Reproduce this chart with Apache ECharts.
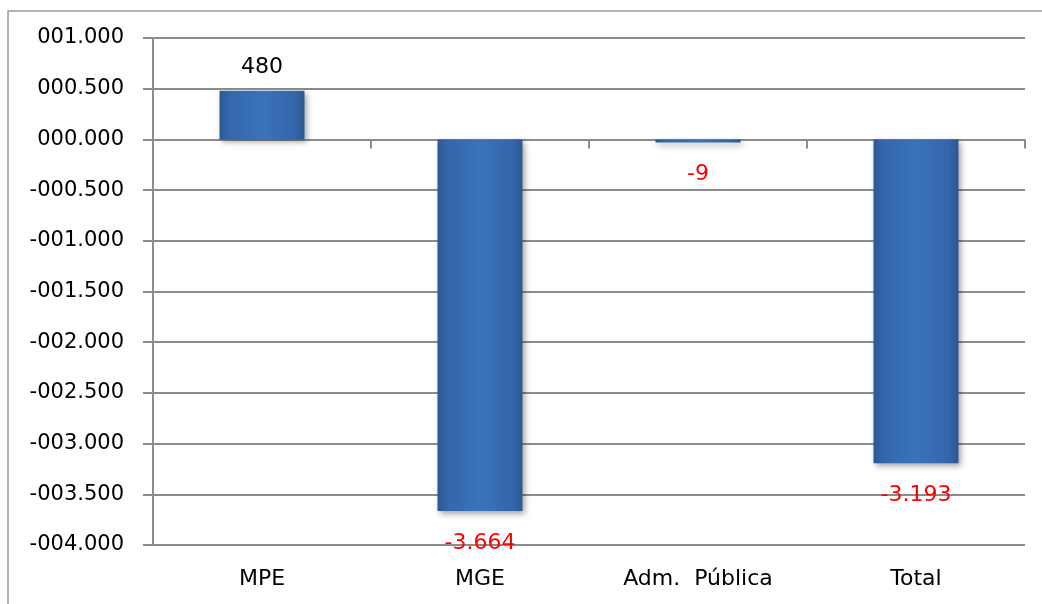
<!DOCTYPE html>
<html>
<head>
<meta charset="utf-8">
<script src="https://cdn.jsdelivr.net/npm/echarts@6/dist/echarts.min.js"></script>
<style>
html,body{margin:0;padding:0;background:#fff;}
#chart{width:1042px;height:604px;}
</style>
</head>
<body>
<div id="chart"></div>
<script>
var categories = ['MPE', 'MGE', 'Adm.  Pública', 'Total'];
var values = [480, -3664, -9, -3193];
var yMin = -4000, yMax = 1000, yInterval = 500;

function fmtTick(v) {
  var neg = v < 0;
  var s = String(Math.abs(Math.round(v)));
  while (s.length < 6) s = '0' + s;
  s = s.slice(0, 3) + '.' + s.slice(3);
  return (neg ? '-' : '') + s;
}
function fmtVal(v) {
  var neg = v < 0;
  var s = String(Math.abs(v)).replace(/\B(?=(\d{3})+(?!\d))/g, '.');
  return (neg ? '-' : '') + s;
}

var FONT = '"DejaVu Sans", sans-serif';
var barColor = {
  type: 'linear', x: 0, y: 0, x2: 1, y2: 0,
  colorStops: [
    {offset: 0, color: '#2b5893'},
    {offset: 0.12, color: '#3467ab'},
    {offset: 0.5, color: '#3a72bc'},
    {offset: 0.88, color: '#3467ab'},
    {offset: 1, color: '#2b5893'}
  ]
};

var data = values.map(function (v) {
  return {
    value: v,
    label: {
      show: true,
      position: v >= 0 ? 'top' : 'bottom',
      distance: v >= 0 ? 12 : 21,
      color: v >= 0 ? '#000' : '#ff0000',
      fontSize: 22,
      fontFamily: FONT,
      formatter: function (p) { return fmtVal(p.value); }
    }
  };
});

var chart = echarts.init(document.getElementById('chart'), null, {renderer: 'canvas'});
chart.setOption({
  animation: false,
  backgroundColor: '#fff',
  graphic: [{
    type: 'rect',
    shape: {x: 8, y: 11, width: 1200, height: 1000},
    style: {fill: 'none', stroke: '#9a9a9a', lineWidth: 1.5},
    silent: true,
    z: -1
  }],
  grid: {left: 153, right: 17, top: 38, bottom: 59, containLabel: false},
  xAxis: [{
    type: 'category',
    data: categories,
    axisLine: {onZero: true, lineStyle: {color: '#8c8c8c', width: 2}},
    axisTick: {show: true, length: 9, alignWithLabel: false, lineStyle: {color: '#8c8c8c', width: 2}},
    axisLabel: {show: false},
    splitLine: {show: false}
  }, {
    type: 'category',
    data: categories,
    position: 'bottom',
    axisLine: {show: false, onZero: false},
    axisTick: {show: false},
    axisLabel: {show: true, color: '#000', fontSize: 22, fontFamily: FONT, margin: 23},
    splitLine: {show: false}
  }],
  yAxis: {
    type: 'value',
    min: yMin, max: yMax, interval: yInterval,
    axisLine: {show: true, lineStyle: {color: '#8c8c8c', width: 2}},
    axisTick: {show: true, length: 10, lineStyle: {color: '#8c8c8c', width: 2}},
    axisLabel: {color: '#000', fontSize: 21, fontFamily: FONT, margin: 29, formatter: fmtTick},
    splitLine: {show: true, lineStyle: {color: '#8c8c8c', width: 2}}
  },
  series: [{
    type: 'bar',
    xAxisIndex: 0,
    data: data,
    barWidth: 85,
    barMinHeight: 3,
    itemStyle: {
      color: barColor,
      shadowBlur: 6,
      shadowOffsetX: 2,
      shadowOffsetY: 3,
      shadowColor: 'rgba(0,0,0,0.35)'
    },
    z: 3
  }]
});
</script>
</body>
</html>
